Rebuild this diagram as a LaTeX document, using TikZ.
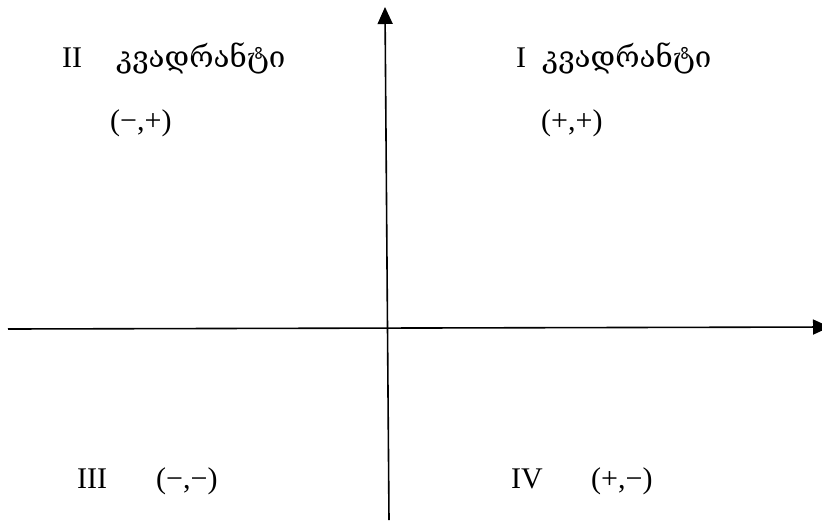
\documentclass[tikz,border=0pt]{standalone}
\usepackage{fontspec}
\setmainfont{Liberation Serif}
\newfontfamily\geofont[Script=Georgian]{DejaVu Serif}
\usetikzlibrary{arrows.meta}
\begin{document}
\begin{tikzpicture}[x=1pt, y=-1pt, axis/.style={line width=1.6pt, -{Triangle[length=17pt, width=15pt]}}, label/.style={anchor=base west, inner sep=0pt, font=\fontsize{30}{34}\selectfont}, word/.style={label, font=\fontsize{29.5}{34}\selectfont\geofont}]
		\useasboundingbox (0,0) rectangle (822,520);

		\coordinate (xstart) at (8,329);
		\coordinate (xend) at (830,327);
		\coordinate (ystart) at (389,520);
		\coordinate (yend) at (385,7);
		\draw[axis] (xstart) -- (xend);
		\draw[axis] (ystart) -- (yend);

		\node[label] (q2) at (62,67) {II};
		\node[word] (q2word) at (116,67) {კვადრანტი};
		\node[label] (q2sign) at (110,130) {(−,+)};
		\node[label] (q1) at (516,67) {I};
		\node[word] (q1word) at (542,67) {კვადრანტი};
		\node[label] (q1sign) at (541,130) {(+,+)};
		\node[label] (q3) at (77,488) {III};
		\node[label] (q3sign) at (156,488) {(−,−)};
		\node[label] (q4) at (511,488) {IV};
		\node[label] (q4sign) at (591,488) {(+,−)};
	\end{tikzpicture}
\end{document}
